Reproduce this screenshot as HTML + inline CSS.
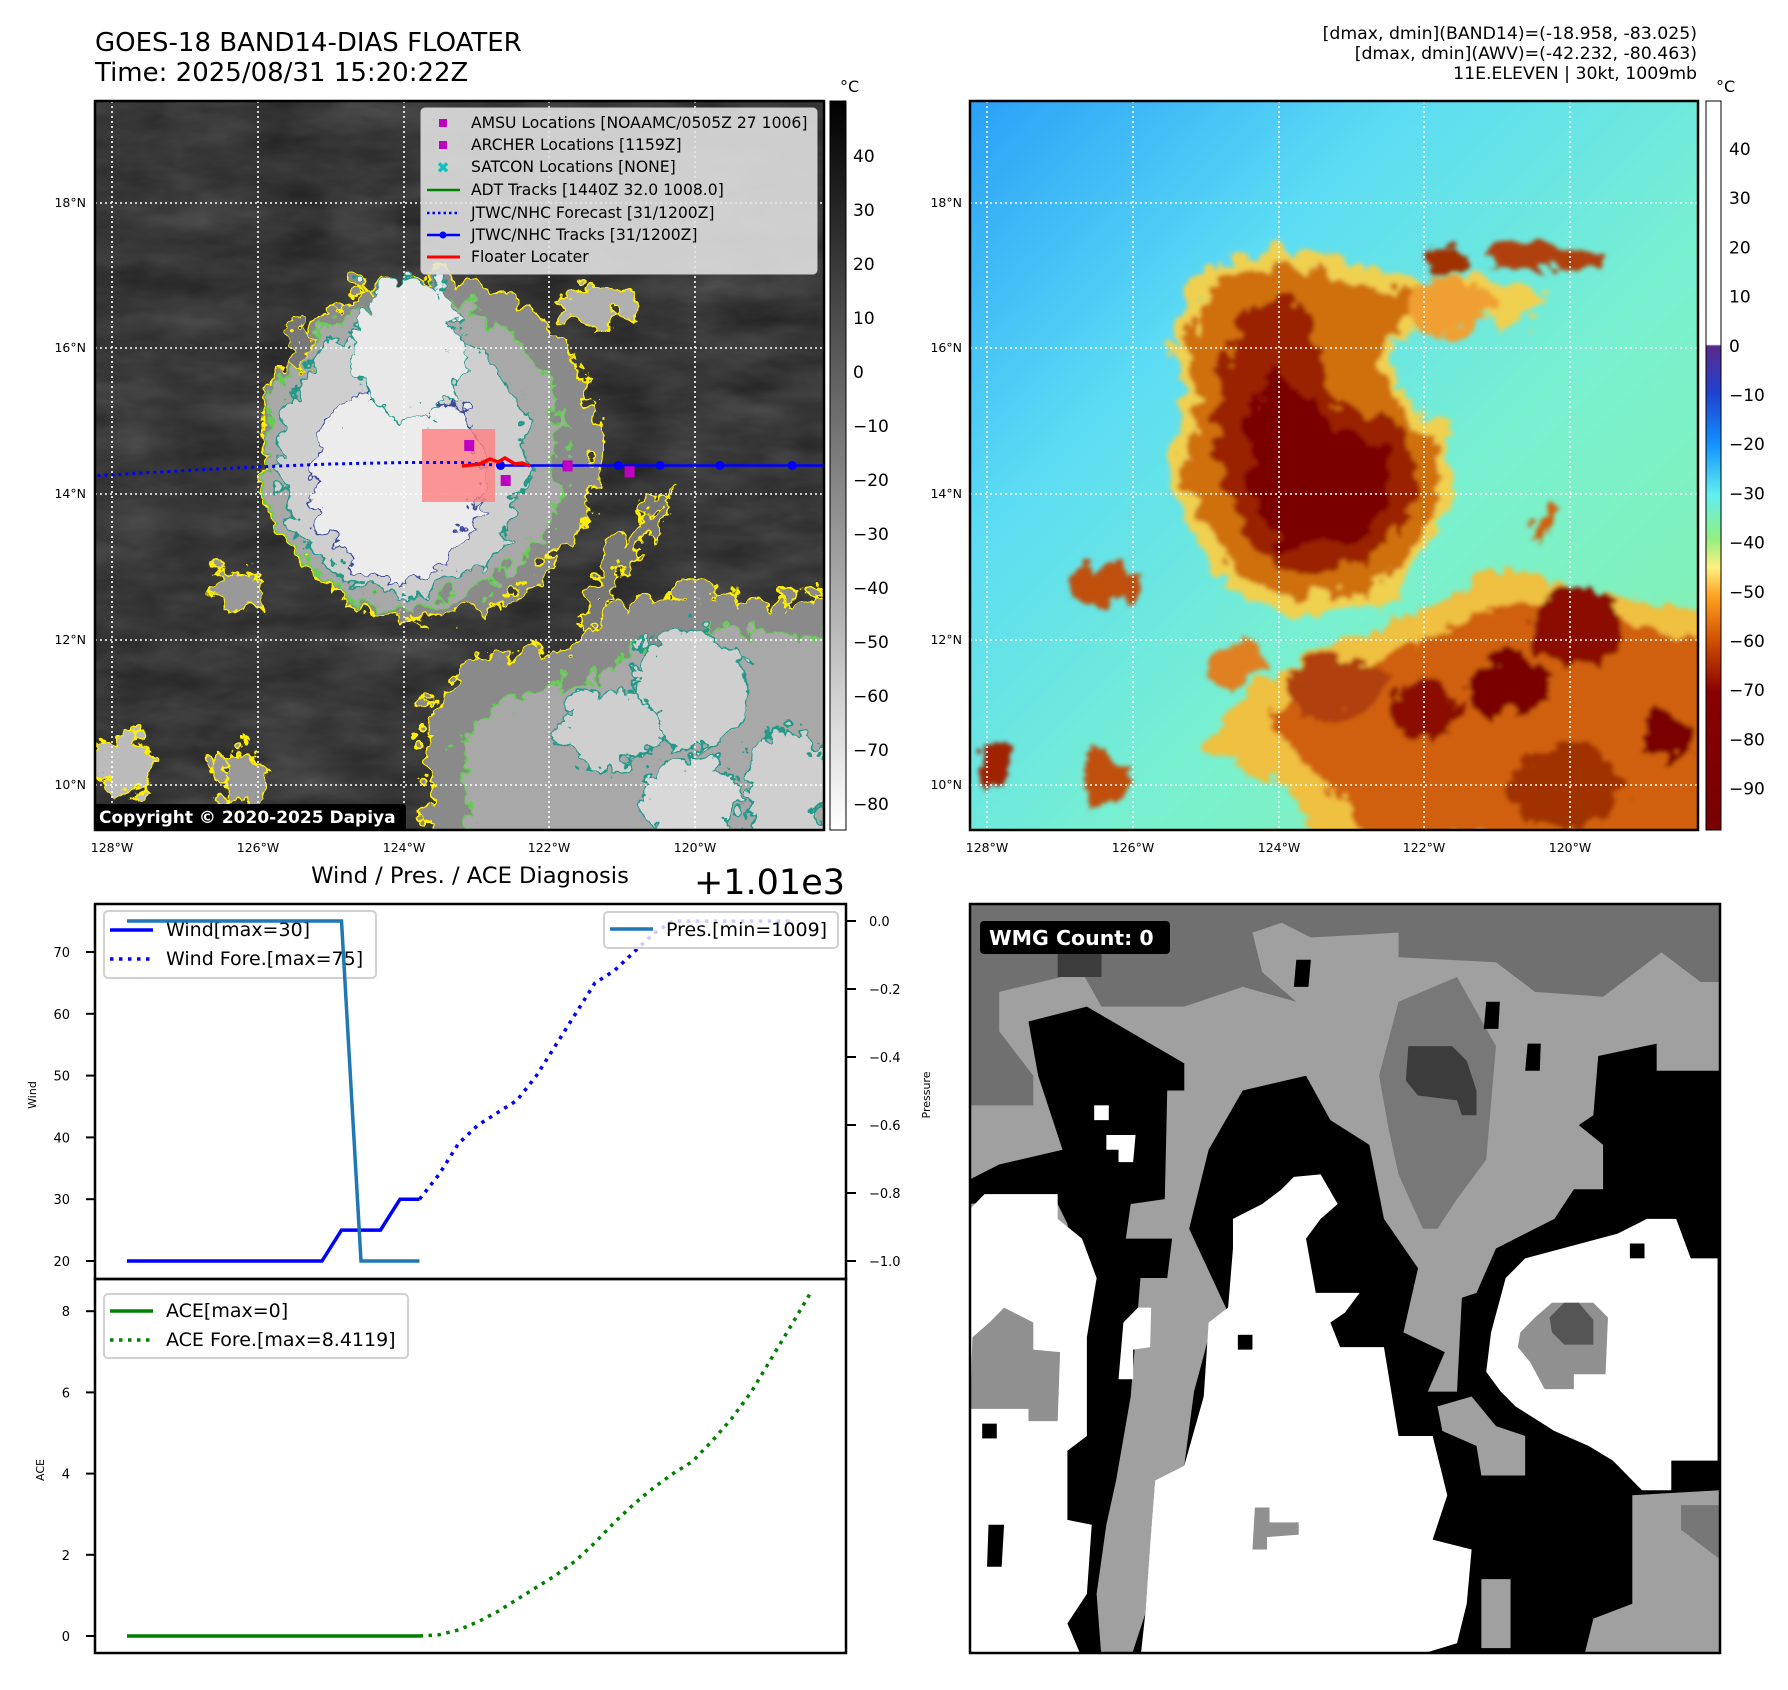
<!DOCTYPE html>
<html><head><meta charset="utf-8"><style>
html,body{margin:0;padding:0;background:#fff}
svg{display:block}
text{font-family:"DejaVu Sans","Liberation Sans",sans-serif}
</style></head><body>
<svg id="root" width="1788" height="1690" viewBox="0 0 1788 1690" xmlns="http://www.w3.org/2000/svg">
<defs>
<filter id="noiseBg" x="0" y="0" width="100%" height="100%" color-interpolation-filters="sRGB">
<feTurbulence type="fractalNoise" baseFrequency="0.012 0.03" numOctaves="4" seed="3"/>
<feColorMatrix type="matrix" values="0.14 0.14 0 0 0.08  0.14 0.14 0 0 0.08  0.14 0.14 0 0 0.08  0 0 0 0 1"/>
</filter>
<filter id="wig" x="-20%" y="-20%" width="140%" height="140%">
<feTurbulence type="turbulence" baseFrequency="0.035" numOctaves="3" seed="7" result="t"/>
<feDisplacementMap in="SourceGraphic" in2="t" scale="38" xChannelSelector="R" yChannelSelector="G"/>
</filter>
<filter id="wig2" x="-20%" y="-20%" width="140%" height="140%">
<feTurbulence type="turbulence" baseFrequency="0.03" numOctaves="3" seed="11" result="t"/>
<feDisplacementMap in="SourceGraphic" in2="t" scale="30" xChannelSelector="R" yChannelSelector="G" result="d"/>
<feGaussianBlur in="d" stdDeviation="2"/>
</filter>
<linearGradient id="cb1" x1="0" y1="0" x2="0" y2="1">
<stop offset="0" stop-color="#000"/><stop offset="1" stop-color="#fff"/>
</linearGradient>
<linearGradient id="cb2" x1="0" y1="0" x2="0" y2="1">
<stop offset="0" stop-color="#fff"/><stop offset="0.334" stop-color="#fff"/>
<stop offset="0.336" stop-color="#5a2a8a"/><stop offset="0.40" stop-color="#2040d0"/>
<stop offset="0.47" stop-color="#1090ff"/><stop offset="0.54" stop-color="#60f0f0"/>
<stop offset="0.60" stop-color="#90f080"/><stop offset="0.64" stop-color="#fff080"/>
<stop offset="0.68" stop-color="#ffa020"/><stop offset="0.74" stop-color="#d05000"/>
<stop offset="0.81" stop-color="#8a0000"/><stop offset="1" stop-color="#780000"/>
</linearGradient>
<linearGradient id="bg2" x1="0" y1="0" x2="1" y2="1">
<stop offset="0" stop-color="#2aa0f8"/><stop offset="0.3" stop-color="#5cdcf4"/>
<stop offset="0.6" stop-color="#78f0d0"/><stop offset="1" stop-color="#88f0a8"/>
</linearGradient>
<clipPath id="clip1"><rect x="95" y="101" width="729" height="729"/></clipPath>
<clipPath id="clip2"><rect x="970" y="101" width="728" height="729"/></clipPath>
<clipPath id="clip3"><rect x="970" y="904" width="750" height="749"/></clipPath>
</defs>

<text x="95" y="51" font-size="26">GOES-18 BAND14-DIAS FLOATER</text>
<text x="95" y="81" font-size="26">Time: 2025/08/31 15:20:22Z</text>
<g font-size="17.3" text-anchor="end">
<text x="1697" y="39">[dmax, dmin](BAND14)=(-18.958, -83.025)</text>
<text x="1697" y="59">[dmax, dmin](AWV)=(-42.232, -80.463)</text>
<text x="1697" y="79">11E.ELEVEN | 30kt, 1009mb</text>
</g>

<!-- MAP 1 -->
<g clip-path="url(#clip1)">
<rect x="95" y="101" width="729" height="729" fill="#3a3a3a"/>
<rect x="95" y="101" width="729" height="729" filter="url(#noiseBg)"/>
<g filter="url(#wig)">
<ellipse cx="420" cy="440" rx="170" ry="170" fill="#8a8a8a" stroke="#ffee00" stroke-width="3"/>
<ellipse cx="405" cy="445" rx="150" ry="155" fill="#a8a8a8" stroke="#66cc55" stroke-width="3"/>
<ellipse cx="395" cy="450" rx="125" ry="135" fill="#cfcfcf" stroke="#229988" stroke-width="3"/>
<ellipse cx="390" cy="470" rx="85" ry="100" fill="#ececec" stroke="#3a4a99" stroke-width="2"/>
<ellipse cx="400" cy="340" rx="55" ry="70" fill="#e8e8e8" stroke="#229988" stroke-width="2"/>
<ellipse cx="590" cy="298" rx="38" ry="22" fill="#b0b0b0" stroke="#ffee00" stroke-width="3"/>
<path d="M570 610 L600 540 L640 500 L665 480 L655 510 L615 560 L590 620 Z" fill="#777" stroke="#ffee00" stroke-width="3"/>
<path d="M420 700 L470 650 L560 640 L600 600 L680 580 L760 600 L830 580 L830 830 L420 830 Z" fill="#8a8a8a" stroke="#ffee00" stroke-width="3"/>
<path d="M450 730 L500 690 L580 675 L620 640 L700 620 L770 630 L830 620 L830 830 L460 830 Z" fill="#a8a8a8" stroke="#66cc55" stroke-width="3"/>
<ellipse cx="680" cy="680" rx="60" ry="60" fill="#cfcfcf" stroke="#229988" stroke-width="3"/>
<ellipse cx="600" cy="720" rx="50" ry="40" fill="#cfcfcf" stroke="#229988" stroke-width="3"/>
<ellipse cx="780" cy="780" rx="45" ry="60" fill="#cfcfcf" stroke="#229988" stroke-width="3"/>
<ellipse cx="680" cy="790" rx="50" ry="40" fill="#d8d8d8" stroke="#229988" stroke-width="3"/>
<ellipse cx="232" cy="580" rx="30" ry="18" fill="#999" stroke="#ffee00" stroke-width="3"/>
<ellipse cx="118" cy="760" rx="28" ry="30" fill="#bbb" stroke="#ffee00" stroke-width="3"/>
<ellipse cx="235" cy="770" rx="25" ry="30" fill="#999" stroke="#ffee00" stroke-width="3"/>
<ellipse cx="290" cy="335" rx="10" ry="25" fill="#777" stroke="#ffee00" stroke-width="2"/>
</g>
<g stroke="#fff" stroke-width="1.6" stroke-dasharray="2 3">
<line x1="112" y1="101" x2="112" y2="830"/><line x1="258" y1="101" x2="258" y2="830"/>
<line x1="404" y1="101" x2="404" y2="830"/><line x1="549" y1="101" x2="549" y2="830"/>
<line x1="695" y1="101" x2="695" y2="830"/>
<line x1="95" y1="203" x2="824" y2="203"/><line x1="95" y1="348" x2="824" y2="348"/>
<line x1="95" y1="494" x2="824" y2="494"/><line x1="95" y1="640" x2="824" y2="640"/>
<line x1="95" y1="785" x2="824" y2="785"/>
</g>
<g id="trackLayer"></g>
</g>
<rect x="95" y="101" width="729" height="729" fill="none" stroke="#000" stroke-width="2.5"/>
<g>
<rect x="421" y="108" width="396" height="166" rx="4" fill="#e4e4e4" fill-opacity="0.88" stroke="#ccc"/>
<g font-size="15.6">
<rect x="439" y="119" width="8" height="8" fill="#c000c0"/><text x="471" y="128">AMSU Locations [NOAAMC/0505Z 27 1006]</text>
<rect x="439" y="141" width="8" height="8" fill="#c000c0"/><text x="471" y="150">ARCHER Locations [1159Z]</text>
<text x="443" y="173" fill="#10c0c0" font-weight="bold" text-anchor="middle">✖</text><text x="471" y="172">SATCON Locations [NONE]</text>
<line x1="427" y1="190" x2="460" y2="190" stroke="#008000" stroke-width="2.5"/><text x="471" y="195">ADT Tracks [1440Z 32.0 1008.0]</text>
<line x1="427" y1="213" x2="460" y2="213" stroke="#0000ff" stroke-width="2.5" stroke-dasharray="2.5 3"/><text x="471" y="218">JTWC/NHC Forecast [31/1200Z]</text>
<line x1="427" y1="235" x2="460" y2="235" stroke="#0000ff" stroke-width="2.5"/><circle cx="443" cy="235" r="3.5" fill="#0000ff"/><text x="471" y="240">JTWC/NHC Tracks [31/1200Z]</text>
<line x1="427" y1="257" x2="460" y2="257" stroke="#ff0000" stroke-width="3"/><text x="471" y="262">Floater Locater</text>
</g></g>
<rect x="94" y="804" width="312" height="26" rx="3" fill="#000"/>
<text x="99" y="823" font-size="17" font-weight="bold" fill="#fff">Copyright © 2020-2025 Dapiya</text>
<rect x="830" y="101" width="16" height="729" fill="url(#cb1)" stroke="#000" stroke-width="1"/>
<text x="840" y="92" font-size="16">°C</text>
<g id="cb1labels" font-size="17"></g>
<g font-size="12.5">
<text x="86" y="207" text-anchor="end">18°N</text><text x="86" y="352" text-anchor="end">16°N</text>
<text x="86" y="498" text-anchor="end">14°N</text><text x="86" y="644" text-anchor="end">12°N</text>
<text x="86" y="789" text-anchor="end">10°N</text>
<g text-anchor="middle"><text x="112" y="852">128°W</text><text x="258" y="852">126°W</text><text x="404" y="852">124°W</text><text x="549" y="852">122°W</text><text x="695" y="852">120°W</text></g>
</g>

<!-- MAP 2 -->
<g clip-path="url(#clip2)">
<rect x="970" y="101" width="728" height="729" fill="url(#bg2)"/>
<g filter="url(#wig2)">
<path d="M1165 330 L1200 260 L1260 245 L1330 250 L1420 275 L1470 265 L1540 290 L1520 320 L1420 320 L1380 340 L1400 400 L1440 420 L1445 500 L1410 560 L1380 600 L1290 610 L1220 580 L1180 520 L1160 450 L1180 400 Z" fill="#f0d050"/>
<path d="M1180 340 L1210 275 L1270 262 L1330 270 L1420 290 L1390 320 L1370 350 L1395 410 L1430 430 L1430 500 L1400 550 L1360 585 L1290 595 L1230 565 L1195 510 L1178 450 L1195 400 Z" fill="#d07010"/>
<path d="M1215 370 L1240 300 L1290 290 L1310 340 L1330 400 L1400 420 L1410 490 L1370 550 L1300 570 L1245 540 L1220 480 L1210 420 Z" fill="#9a2000"/>
<path d="M1240 420 L1265 360 L1290 380 L1320 420 L1380 440 L1380 500 L1340 540 L1280 545 L1250 500 Z" fill="#7a0000"/>
<ellipse cx="1540" cy="250" rx="60" ry="12" fill="#b04010"/>
<ellipse cx="1440" cy="252" rx="22" ry="15" fill="#a03000"/>
<ellipse cx="1445" cy="300" rx="45" ry="30" fill="#f0a030"/>
<path d="M1230 700 L1300 650 L1380 620 L1440 590 L1500 560 L1560 580 L1620 590 L1700 600 L1700 830 L1310 830 L1280 780 L1200 740 Z" fill="#f0c040"/>
<path d="M1260 710 L1320 670 L1400 640 L1480 600 L1560 600 L1640 620 L1700 640 L1700 830 L1360 830 L1300 760 Z" fill="#d06010"/>
<ellipse cx="1570" cy="620" rx="45" ry="40" fill="#8a1000"/>
<ellipse cx="1500" cy="680" rx="40" ry="30" fill="#7a0000"/>
<ellipse cx="1420" cy="700" rx="35" ry="30" fill="#8a1000"/>
<ellipse cx="1660" cy="730" rx="25" ry="25" fill="#7a0000"/>
<ellipse cx="1560" cy="780" rx="60" ry="40" fill="#a03000"/>
<ellipse cx="1330" cy="680" rx="50" ry="30" fill="#b04010"/>
<path d="M1520 530 L1550 490 L1560 500 L1530 540 Z" fill="#d06010"/>
<ellipse cx="1100" cy="580" rx="35" ry="20" fill="#c05010"/>
<ellipse cx="1098" cy="772" rx="22" ry="28" fill="#c05010"/>
<ellipse cx="988" cy="760" rx="16" ry="22" fill="#a02000"/>
<ellipse cx="1230" cy="660" rx="30" ry="20" fill="#e08020"/>
</g>
<g stroke="#fff" stroke-width="1.6" stroke-dasharray="2 3">
<line x1="987" y1="101" x2="987" y2="830"/><line x1="1133" y1="101" x2="1133" y2="830"/>
<line x1="1279" y1="101" x2="1279" y2="830"/><line x1="1424" y1="101" x2="1424" y2="830"/>
<line x1="1570" y1="101" x2="1570" y2="830"/>
<line x1="970" y1="203" x2="1698" y2="203"/><line x1="970" y1="348" x2="1698" y2="348"/>
<line x1="970" y1="494" x2="1698" y2="494"/><line x1="970" y1="640" x2="1698" y2="640"/>
<line x1="970" y1="785" x2="1698" y2="785"/>
</g>
</g>
<rect x="970" y="101" width="728" height="729" fill="none" stroke="#000" stroke-width="2.5"/>
<rect x="1706" y="101" width="15" height="729" fill="url(#cb2)" stroke="#000" stroke-width="1"/>
<text x="1716" y="92" font-size="16">°C</text>
<g id="cb2labels" font-size="17"></g>
<g font-size="12.5">
<text x="962" y="207" text-anchor="end">18°N</text><text x="962" y="352" text-anchor="end">16°N</text>
<text x="962" y="498" text-anchor="end">14°N</text><text x="962" y="644" text-anchor="end">12°N</text>
<text x="962" y="789" text-anchor="end">10°N</text>
<g text-anchor="middle"><text x="987" y="852">128°W</text><text x="1133" y="852">126°W</text><text x="1279" y="852">124°W</text><text x="1424" y="852">122°W</text><text x="1570" y="852">120°W</text></g>
</g>

<!-- WMG panel -->
<g clip-path="url(#clip3)">
<rect x="970" y="904" width="750" height="749" fill="#a0a0a0"/>
<g transform="translate(970,903) scale(0.4870,0.4935)">
<polygon fill="#707070" points="0,0 1540,0 1540,160 1500,160 1420,100 1300,190 1160,180 1080,120 880,110 880,60 700,70 640,40 580,60 600,140 670,200 560,170 440,210 270,210 230,140 60,180 60,260 130,350 130,410 0,410"/>
<polygon fill="#787878" points="840,350 880,200 1000,150 1080,290 1060,520 1000,600 960,660 930,660 880,550 860,460"/>
<polygon fill="#3c3c3c" points="900,290 990,290 1020,320 1040,380 1040,430 1010,430 1000,400 920,390 895,360"/>
<polygon fill="#3c3c3c" points="180,100 270,100 270,150 180,150"/>
<polygon fill="#000" points="120,240 240,210 440,325 440,380 405,380 400,600 330,610 320,680 415,680 405,760 430,820 470,850 500,870 480,1000 470,1140 390,1170 380,1530 170,1530 170,1460 190,1250 190,1100 230,880 200,650 170,590 0,610 0,560 60,530 190,500 140,350"/>
<polygon fill="#a0a0a0" points="270,1530 330,1530 360,1440 380,1170 440,1140 460,990 490,880 500,760 520,700 450,660 420,690 410,760 350,760 330,1000 300,1170 280,1260 260,1400"/>
<polygon fill="#000" points="490,500 560,380 690,350 740,440 820,490 850,640 920,740 890,870 975,910 940,990 1000,990 1010,800 1040,790 1080,700 1200,640 1240,580 1300,580 1300,490 1250,450 1280,430 1290,310 1410,285 1410,340 1540,340 1540,1530 1260,1530 1030,1530 900,1530 860,1300 860,1000 700,900 530,830 450,660"/>
<polygon fill="#fff" points="0,620 30,590 180,590 180,640 230,680 260,760 240,880 240,1080 200,1110 200,1250 250,1260 240,1400 200,1460 230,1530 0,1530"/>
<polygon fill="#909090" points="5,880 40,850 70,820 130,850 130,905 185,910 180,1050 120,1050 120,1025 0,1025"/>
<polygon fill="#fff" points="380,1170 440,1140 480,1000 490,850 530,820 540,700 540,640 600,610 640,580 665,555 720,550 755,610 720,640 690,680 710,790 800,790 770,830 740,850 760,900 850,900 870,1020 880,1080 950,1080 980,1200 950,1290 1030,1310 1020,1420 1000,1500 900,1530 350,1530 360,1440 370,1300"/>
<polygon fill="#fff" points="1060,950 1070,870 1100,760 1140,720 1330,670 1390,640 1450,640 1480,720 1535,720 1535,1130 1440,1130 1440,1190 1380,1190 1320,1130 1270,1100 1200,1070 1120,1020 1090,990"/>
<polygon fill="#909090" points="1130,870 1160,840 1195,810 1280,810 1310,840 1305,955 1240,955 1240,985 1180,985 1150,930 1125,900"/>
<polygon fill="#555" points="1190,840 1220,810 1250,810 1280,845 1280,895 1220,895 1195,870"/>
<polygon fill="#a0a0a0" points="960,1020 1030,1000 1080,1060 1140,1080 1140,1160 1050,1160 1040,1100 970,1070"/>
<polygon fill="#a0a0a0" points="1050,1370 1110,1370 1110,1510 1050,1510"/>
<polygon fill="#a0a0a0" points="1260,1530 1280,1450 1360,1420 1360,1200 1540,1190 1540,1530"/>
<polygon fill="#777" points="1460,1220 1540,1220 1540,1330 1500,1300 1460,1270"/>
<polygon fill="#909090" points="585,1225 615,1225 615,1255 675,1255 675,1280 610,1285 610,1310 580,1310"/>
<polygon fill="#fff" points="280,470 340,470 335,525 305,525 305,500 280,500"/>
<polygon fill="#fff" points="255,410 285,410 285,440 255,440"/>
<polygon fill="#fff" points="315,850 345,820 372,820 370,900 335,905 335,965 305,965"/>
<polygon fill="#000" points="25,1055 55,1055 55,1085 25,1085"/>
<polygon fill="#000" points="38,1260 70,1260 65,1345 35,1345"/>
<polygon fill="#000" points="550,875 580,875 580,905 550,905"/>
<polygon fill="#000" points="670,115 700,115 695,170 665,170"/>
<polygon fill="#000" points="1060,200 1088,200 1085,255 1055,255"/>
<polygon fill="#000" points="1145,285 1172,285 1170,340 1140,340"/>
<polygon fill="#000" points="1355,690 1385,690 1385,720 1355,720"/>
</g>
</g>
<rect x="970" y="904" width="750" height="749" fill="none" stroke="#000" stroke-width="2.5"/>
<rect x="980" y="921" width="190" height="33" rx="4" fill="#000"/>
<text x="989" y="945" font-size="20.5" font-weight="bold" fill="#fff">WMG Count: 0</text>

<!-- CHART -->
<text x="470" y="883" font-size="22.6" text-anchor="middle">Wind / Pres. / ACE Diagnosis</text>
<text x="845" y="894" font-size="35" text-anchor="end">+1.01e3</text>
<g id="chart"></g>
</svg>
<script>
const windObsIdx = [0,1,2,3,4,5,6,7,8,9,10,11,12,13,14,15];
const windObs = [20,20,20,20,20,20,20,20,20,20,20,25,25,25,30,30];
const presObs = [1010,1010,1010,1010,1010,1010,1010,1010,1010,1010,1010,1010,1009,1009,1009,1009];
const foreIdx = [15,16,17,18,19,20,21,22,23,24,25,26,27,28,29,30,31,32,33,34];
const windFore = [30,34,39,42,44,46,50,55,60,65,67,70,73,75,75,75,75,75,75,75];
const aceObs = [0,0,0,0,0,0,0,0,0,0,0,0,0,0,0,0];
const aceForeIdx = [15,16,17,18,19,20,21,22,23,24,25,26,27,28,29,30,31,32,33,34,35];
const aceFore = [0,0.03,0.15,0.35,0.6,0.9,1.2,1.5,1.85,2.3,2.8,3.25,3.65,4.0,4.3,4.8,5.35,6.0,6.8,7.6,8.41];
const windTicks = [20,30,40,50,60,70];
const presTicks = [0,-0.2,-0.4,-0.6,-0.8,-1.0];
const presTickLabels = ["0.0","\u22120.2","\u22120.4","\u22120.6","\u22120.8","\u22121.0"];
const aceTicks = [0,2,4,6,8];
const cb1Ticks = [40,30,20,10,0,-10,-20,-30,-40,-50,-60,-70,-80];
const cb2Ticks = [40,30,20,10,0,-10,-20,-30,-40,-50,-60,-70,-80,-90];
const trackLon = [-122.67,-121.77,-121.05,-120.48,-119.66,-118.67];
const trackLat = [14.4,14.4,14.4,14.4,14.4,14.4];
const foreLon = [-128.2,-127,-126,-125,-124,-123.2,-122.67];
const foreLat = [14.26,14.33,14.38,14.42,14.44,14.44,14.4];
const amsuLon = [-123.1,-122.6,-121.75,-120.9];
const amsuLat = [14.68,14.2,14.4,14.32];

const NS="http://www.w3.org/2000/svg";
function mk(tag,attrs,parent){const e=document.createElementNS(NS,tag);for(const k in attrs)e.setAttribute(k,attrs[k]);parent.appendChild(e);return e;}
const X = i => 127 + i*19.5;
const YW = v => 1261 - (v-20)*6.18;
const YP = p => 1261 - (p-1009)*340;
const YA = a => 1636 - a*40.6;
const LX = lon => 112 + (lon+128)*72.9;
const LY = lat => 203 + (18-lat)*72.9;
const pts = (xs,ys,fx,fy)=>xs.map((x,i)=>fx(x)+","+fy(ys[i])).join(" ");

const chart=document.getElementById('chart');
let f1=mk('rect',{x:95,y:904,width:751,height:375,fill:'none',stroke:'#000','stroke-width':2.5},chart);


let f2=mk('rect',{x:95,y:1279,width:751,height:374,fill:'none',stroke:'#000','stroke-width':2.5},chart);


windTicks.forEach(v=>{
 let t=mk('line',{x1:86,x2:95,y1:YW(v),y2:YW(v),stroke:'#000','stroke-width':2},chart);
 
 
 let l=mk('text',{x:70,y:YW(v)+5,'font-size':13,'text-anchor':'end'},chart);l.textContent=v;
 
 
});
presTicks.forEach((v,i)=>{
 let y=YP(1010+v);
 let t=mk('line',{x1:846,x2:856,y1:y,y2:y,stroke:'#000','stroke-width':2},chart);
 
 
 let l=mk('text',{x:869,y:y+5,'font-size':13},chart);l.textContent=presTickLabels[i];
 
 
});
aceTicks.forEach(v=>{
 let t=mk('line',{x1:86,x2:95,y1:YA(v),y2:YA(v),stroke:'#000','stroke-width':2},chart);
 
 
 let l=mk('text',{x:70,y:YA(v)+5,'font-size':13,'text-anchor':'end'},chart);l.textContent=v;
 
 
});
let yl=mk('text',{x:36,y:1095,'font-size':11,'text-anchor':'middle',transform:'rotate(-90 36 1095)'},chart);yl.textContent='Wind';


let yl2=mk('text',{x:930,y:1095,'font-size':11,'text-anchor':'middle',transform:'rotate(-90 930 1095)'},chart);yl2.textContent='Pressure';


let yl3=mk('text',{x:44,y:1470,'font-size':11,'text-anchor':'middle',transform:'rotate(-90 44 1470)'},chart);yl3.textContent='ACE';



let wo=mk('polyline',{points:pts(windObsIdx,windObs,X,YW),fill:'none',stroke:'#0000ff','stroke-width':3.5},chart);


let wf=mk('polyline',{points:pts(foreIdx,windFore,X,YW),fill:'none',stroke:'#0000ff','stroke-width':3.5,'stroke-dasharray':'3.5 5.5'},chart);


let wl=mk('g',{},chart);


mk('rect',{x:104,y:911,width:272,height:67,rx:4,fill:'#fff','fill-opacity':0.8,stroke:'#d0d0d0','stroke-width':2},wl);
mk('line',{x1:110,x2:153,y1:930,y2:930,stroke:'#0000ff','stroke-width':3.5},wl);
mk('line',{x1:110,x2:153,y1:959,y2:959,stroke:'#0000ff','stroke-width':3.5,'stroke-dasharray':'3.5 5.5'},wl);
let t1=mk('text',{x:166,y:936,'font-size':19},wl);t1.textContent='Wind[max=30]';
let t2=mk('text',{x:166,y:965,'font-size':19},wl);t2.textContent='Wind Fore.[max=75]';
let po=mk('polyline',{points:pts(windObsIdx,presObs,X,YP),fill:'none',stroke:'#1f77b4','stroke-width':3.5},chart);


let pl=mk('g',{},chart);


mk('rect',{x:604,y:912,width:234,height:36,rx:4,fill:'#fff','fill-opacity':0.8,stroke:'#d0d0d0','stroke-width':2},pl);
mk('line',{x1:610,x2:653,y1:929,y2:929,stroke:'#1f77b4','stroke-width':3.5},pl);
let t3=mk('text',{x:666,y:936,'font-size':19},pl);t3.textContent='Pres.[min=1009]';
let ao=mk('polyline',{points:pts(windObsIdx,aceObs,X,YA),fill:'none',stroke:'#008000','stroke-width':3.5},chart);


let af=mk('polyline',{points:pts(aceForeIdx,aceFore,X,YA),fill:'none',stroke:'#008000','stroke-width':3.5,'stroke-dasharray':'3.5 5.5'},chart);


let al=mk('g',{},chart);


mk('rect',{x:104,y:1294,width:304,height:64,rx:4,fill:'#fff','fill-opacity':0.8,stroke:'#d0d0d0','stroke-width':2},al);
mk('line',{x1:110,x2:153,y1:1311,y2:1311,stroke:'#008000','stroke-width':3.5},al);
mk('line',{x1:110,x2:153,y1:1340,y2:1340,stroke:'#008000','stroke-width':3.5,'stroke-dasharray':'3.5 5.5'},al);
let t4=mk('text',{x:166,y:1317,'font-size':19},al);t4.textContent='ACE[max=0]';
let t5=mk('text',{x:166,y:1346,'font-size':19},al);t5.textContent='ACE Fore.[max=8.4119]';

const cb1=document.getElementById('cb1labels');
cb1Ticks.forEach(v=>{const y=156+(40-v)*5.4;
 let l=mk('text',{x:853,y:y+6},cb1);l.textContent=v<0?'\u2212'+(-v):v;
 
 });
const cb2=document.getElementById('cb2labels');
cb2Ticks.forEach(v=>{const y=149+(40-v)*4.92;
 let l=mk('text',{x:1729,y:y+6},cb2);l.textContent=v<0?'\u2212'+(-v):v;
 
 });

const tl=document.getElementById('trackLayer');
let fr=mk('rect',{x:422,y:429,width:73,height:73,fill:'#ff8080','fill-opacity':0.8},tl);


let fl=mk('polyline',{points:pts(foreLon,foreLat,LX,LY),fill:'none',stroke:'#0000ff','stroke-width':3,'stroke-dasharray':'3 4'},tl);


let tk=mk('polyline',{points:pts(trackLon.concat([-117]),trackLat.concat([14.4]),LX,LY),fill:'none',stroke:'#0000ff','stroke-width':2.5},tl);


trackLon.forEach((lon,i)=>{let c=mk('circle',{cx:LX(lon),cy:LY(trackLat[i]),r:4.5,fill:'#0000ff'},tl);
 
 });
let rl=mk('polyline',{points:'462,466 480,464 490,459 498,462 505,458 515,464 522,463 530,466',fill:'none',stroke:'#ff0000','stroke-width':3.5},tl);


amsuLon.forEach((lon,i)=>{let r=mk('rect',{x:LX(lon)-5,y:LY(amsuLat[i])-5,width:10,height:11,fill:'#c000c0'},tl);
 
 });
</script>
</body></html>
